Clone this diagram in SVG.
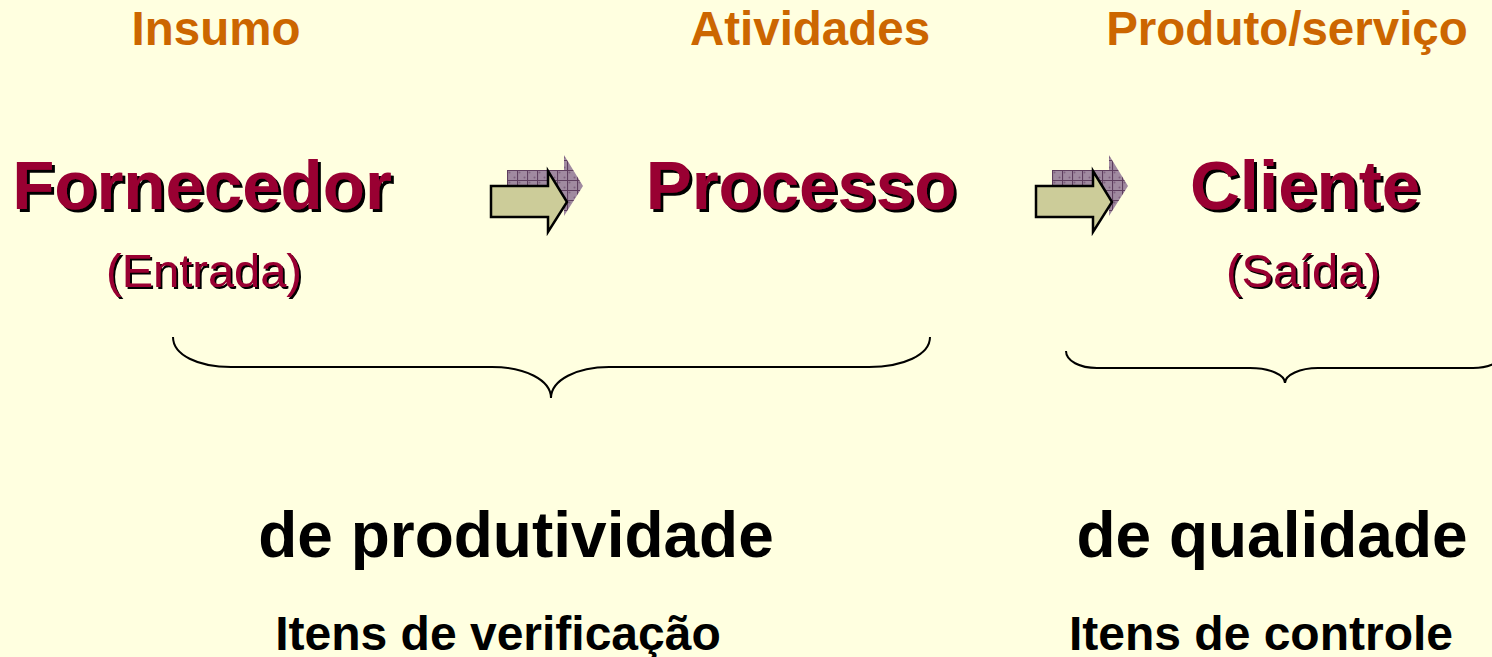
<svg xmlns="http://www.w3.org/2000/svg" width="1492" height="657" viewBox="0 0 1492 657">
<style>
.hdr{font-family:"Liberation Sans",Arial,sans-serif;font-weight:bold;font-size:47.5px;fill:#CC6600;text-anchor:middle}
.big{font-family:"Liberation Sans",Arial,sans-serif;font-weight:bold;font-size:69px;fill:#990033;text-anchor:middle;filter:url(#sh3)}
.sub{font-family:"Liberation Sans",Arial,sans-serif;font-size:47px;fill:#990033;text-anchor:middle;filter:url(#sh2)}
.lbl{font-family:"Liberation Sans",Arial,sans-serif;font-weight:bold;font-size:64px;fill:#000000;text-anchor:middle}
.item{font-family:"Liberation Sans",Arial,sans-serif;font-weight:bold;font-size:48px;fill:#000000;text-anchor:middle}
.brace{fill:none;stroke:#000000;stroke-width:2}
.front{fill:#CCCC99;stroke:#000000;stroke-width:2.5;stroke-linejoin:miter}
.shadow{fill:url(#grid)}
</style>
<defs>
<filter id="sh3" x="-5%" y="-10%" width="110%" height="130%">
<feFlood flood-color="#000000" result="f"/>
<feComposite in="f" in2="SourceAlpha" operator="in" result="s"/>
<feOffset in="s" dx="3" dy="3" result="o"/>
<feMerge><feMergeNode in="o"/><feMergeNode in="SourceGraphic"/></feMerge>
</filter>
<filter id="sh2" x="-5%" y="-10%" width="110%" height="130%">
<feFlood flood-color="#000000" result="f"/>
<feComposite in="f" in2="SourceAlpha" operator="in" result="s"/>
<feOffset in="s" dx="2" dy="2" result="o"/>
<feMerge><feMergeNode in="o"/><feMergeNode in="SourceGraphic"/></feMerge>
</filter>
<pattern id="grid" width="10" height="10" patternUnits="userSpaceOnUse">
<rect width="10" height="10" fill="#A08AA0"/>
<circle cx="2.5" cy="2.5" r="1" fill="#7E607E"/>
<circle cx="7.5" cy="7.5" r="1" fill="#7E607E"/>
<path d="M0,0.5H10M0.5,0V10" stroke="#5E3E5E" stroke-width="1.2"/>
</pattern>
<polygon id="arrowShape" points="0,0 57,0 57,-15 76,16 57,46 57,31 0,31"/>
</defs>
<rect width="1492" height="657" fill="#FFFFE0"/>

<g id="insumo"><text class="hdr" x="216" y="45">Insumo</text></g>
<g id="atividades"><text class="hdr" x="810" y="45">Atividades</text></g>
<g id="produto"><text class="hdr" x="1287" y="45">Produto/serviço</text></g>

<g id="fornecedor">
<text class="big" x="202" y="209">Fornecedor</text>
<text class="sub" x="204" y="287">(Entrada)</text>
</g>
<g id="processo">
<text class="big" x="801" y="209">Processo</text>
</g>
<g id="cliente">
<text class="big" x="1305" y="209">Cliente</text>
<text class="sub" x="1303" y="287">(Saída)</text>
</g>

<g id="connectors">
<use href="#arrowShape" class="shadow" transform="translate(507,170)"/>
<use href="#arrowShape" class="front" transform="translate(491,186)"/>
<use href="#arrowShape" class="shadow" transform="translate(1052,170)"/>
<use href="#arrowShape" class="front" transform="translate(1036,186)"/>
</g>

<g id="brace-produtividade">
<path class="brace" d="M173,337 C173,355 198,367 231,367 L492,367 C525,367 551,380 551,398 C551,380 577,367 609,367 L869,367 C903,367 930,355 930,337"/>
</g>
<g id="brace-qualidade">
<path class="brace" d="M1066,351 C1066,361 1080,368 1097,368 L1250,368 C1270,368 1285,375 1285,383 C1285,375 1300,368 1318,368 L1473,368 C1490,368 1504,361 1504,351"/>
</g>

<g id="produtividade">
<text class="lbl" x="516" y="557">de produtividade</text>
<text class="item" x="498" y="650">Itens de verificação</text>
</g>
<g id="qualidade">
<text class="lbl" x="1272" y="557">de qualidade</text>
<text class="item" x="1261" y="650">Itens de controle</text>
</g>
</svg>
